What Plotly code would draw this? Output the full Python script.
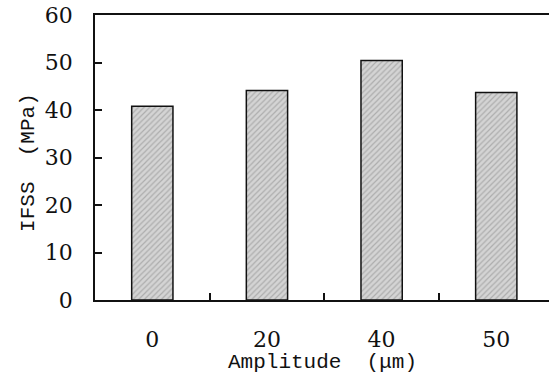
import plotly.graph_objects as go

categories = ["0", "20", "40", "50"]
ifss = [40.8, 44.1, 50.4, 43.7]
y_ticks = [0, 10, 20, 30, 40, 50, 60]
x_title = "Amplitude\u00a0 (μm)"
y_title = "IFSS\u00a0 (MPa)"

SERIF = "DejaVu Serif, Liberation Serif, serif"
MONO = "Liberation Mono, DejaVu Sans Mono, monospace"

fig = go.Figure()
fig.add_trace(go.Bar(
    x=categories, y=ifss, width=0.36,
    marker=dict(color="#cccccc", line=dict(color="#111", width=1.5),
                pattern=dict(shape="/", fgcolor="#858585", bgcolor="#d4d4d4", size=4, solidity=0.3)),
))

fig.update_layout(
    width=549, height=377,
    margin=dict(l=95, r=0, t=15, b=77),
    plot_bgcolor="white", paper_bgcolor="white",
    showlegend=False,
    font=dict(family=SERIF, color="#111", size=22),
    annotations=[
        dict(text=x_title, xref="paper", yref="paper", x=0.502, y=-0.22,
             xanchor="center", yanchor="middle", showarrow=False,
             font=dict(family=MONO, size=21, color="#111")),
        dict(text=y_title, xref="paper", yref="paper", x=-0.147, y=0.482,
             xanchor="center", yanchor="middle", showarrow=False, textangle=-90,
             font=dict(family=MONO, size=21, color="#111")),
    ],
)
fig.update_xaxes(
    type="category", range=[-0.5, 3.46], automargin=False,
    showline=True, linecolor="#111", linewidth=1.5, mirror=True,
    ticks="inside", ticklen=7, tickwidth=1.5, tickcolor="#111", tickson="boundaries",
    showgrid=False, ticklabelstandoff=19,
    tickfont=dict(family=SERIF, size=22),
)
fig.update_yaxes(
    range=[0, 60], tickvals=y_ticks, automargin=False,
    showline=True, linecolor="#111", linewidth=1.5,
    ticks="inside", ticklen=7, tickwidth=1.5, tickcolor="#111",
    showgrid=False, zeroline=False, ticklabelstandoff=16,
    tickfont=dict(family=SERIF, size=22), ticklabeloverflow="allow",
)
fig.write_html("out.html", config={"displayModeBar": False},
               post_script="document.body.style.margin='0';")
